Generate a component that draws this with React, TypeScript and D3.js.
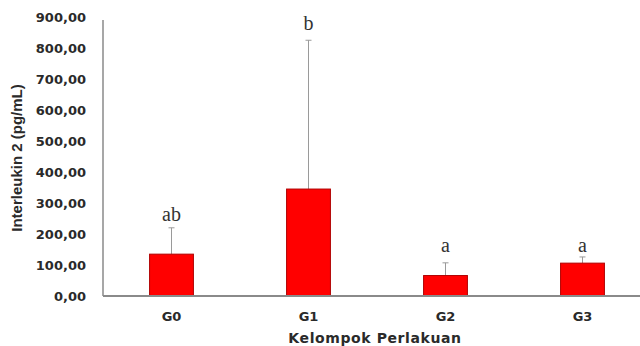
import React from "react";
import * as d3 from "d3";

const categories = ["G0", "G1", "G2", "G3"];
const means = [135, 345, 66, 106];
const errTops = [220, 825, 107, 126];
const letters = ["ab", "b", "a", "a"];
const letterAnchors = [242, 858, 143, 143];
const yTicks = [0, 100, 200, 300, 400, 500, 600, 700, 800, 900];

const W = 640, H = 346;

export default function App() {
  const x = d3.scaleBand<string>().domain(categories).range([103, 651]).paddingInner(0.68).paddingOuter(0.34);
  const y = d3.scaleLinear().domain([0, 900]).range([296, 17]);
  const fmt = (v: number) => d3.format(".2f")(v).replace(".", ",");
  const bw = x.bandwidth();
  return (
    <svg width={W} height={H} style={{ position: "absolute", left: 0, top: 0, background: "#fff" }}>
      {yTicks.map((t) => (
        <text key={t} x={86} y={y(t)} dy="0.35em" textAnchor="end" fontFamily="DejaVu Sans" fontWeight="bold" fontSize={13} fill="#2a2a2a">
          {fmt(t)}
        </text>
      ))}
      <line x1={103} x2={103} y1={y(900) + 3} y2={y(0)} stroke="#8a8a8a" strokeWidth={1.5} />
      {categories.map((c, i) => {
        const cx = (x(c) as number) + bw / 2;
        return (
          <g key={c}>
            <line x1={cx} x2={cx} y1={y(errTops[i])} y2={y(means[i])} stroke="#9a9a9a" strokeWidth={1} />
            <line x1={cx - 3} x2={cx + 3} y1={y(errTops[i])} y2={y(errTops[i])} stroke="#9a9a9a" strokeWidth={1} />
            <rect x={x(c)} y={y(means[i])} width={bw} height={y(0) - y(means[i])} fill="#ff0000" stroke="#b00000" strokeWidth={1} />
            <text x={cx} y={y(letterAnchors[i])} textAnchor="middle" fontFamily="Liberation Serif" fontSize={20} fill="#333">
              {letters[i]}
            </text>
            <text x={cx} y={316} dy="0.35em" textAnchor="middle" fontFamily="DejaVu Sans" fontWeight="bold" fontSize={13} fill="#2a2a2a">
              {c}
            </text>
          </g>
        );
      })}
      <line x1={103} x2={640} y1={y(0)} y2={y(0)} stroke="#8a8a8a" strokeWidth={2} />
      <text transform={`translate(22,158) rotate(-90)`} textAnchor="middle" fontFamily="Liberation Sans" fontWeight="bold" fontSize={15} fill="#2a2a2a">
        Interleukin 2 (pg/mL)
      </text>
      <text x={375} y={343} textAnchor="middle" fontFamily="DejaVu Sans" fontWeight="bold" fontSize={14} letterSpacing={0.6} fill="#2a2a2a">
        Kelompok Perlakuan
      </text>
    </svg>
  );
}
